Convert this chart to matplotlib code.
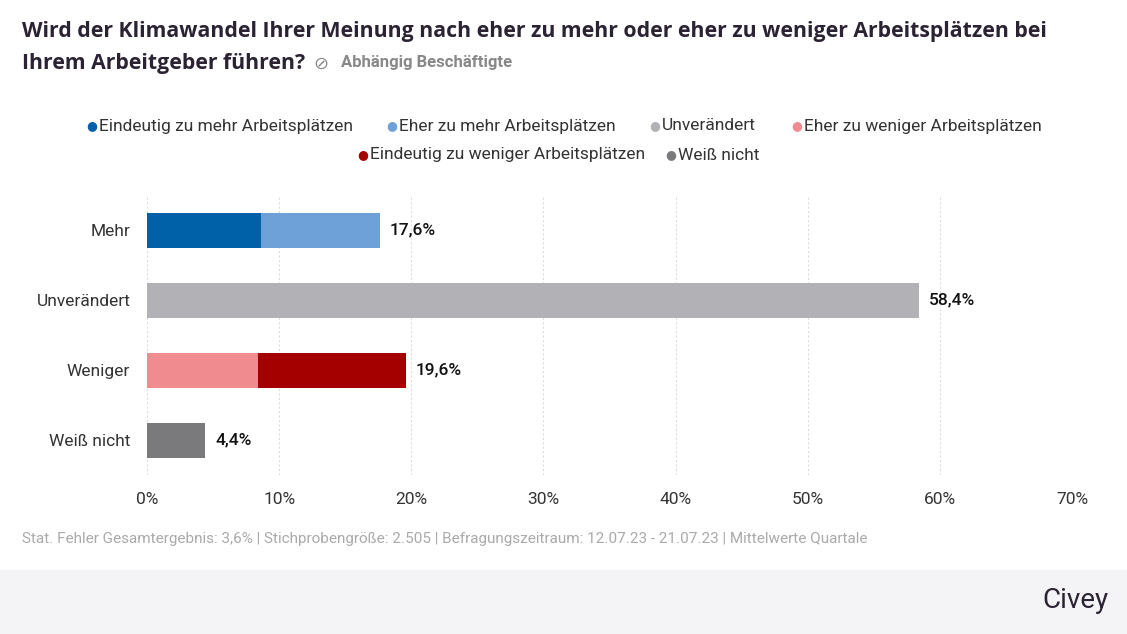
import matplotlib
matplotlib.use("Agg")
import matplotlib.pyplot as plt
from matplotlib.patches import Rectangle

categories = ["Mehr", "Unverändert", "Weniger", "Weiß nicht"]
seg1 = [8.6, 58.4, 8.4, 4.4]
seg2 = [9.0, 0.0, 11.2, 0.0]
totals = ["17,6%", "58,4%", "19,6%", "4,4%"]
c1 = ["#0060a8", "#b1b1b6", "#f08b90", "#7a7a7c"]
c2 = ["#6ea1d8", "#b1b1b6", "#a50000", "#7a7a7c"]
legend_items = [("Eindeutig zu mehr Arbeitsplätzen", "#0060a8"),
                ("Eher zu mehr Arbeitsplätzen", "#6ea1d8"),
                ("Unverändert", "#b1b1b6"),
                ("Eher zu weniger Arbeitsplätzen", "#f08b90"),
                ("Eindeutig zu weniger Arbeitsplätzen", "#a50000"),
                ("Weiß nicht", "#7a7a7c")]
xticks = [0, 10, 20, 30, 40, 50, 60, 70]

plt.rcParams['font.family'] = ['Roboto', 'DejaVu Sans']
W, H = 1127, 634
fig = plt.figure(figsize=(W/100, H/100), dpi=100)
fig.patches.append(Rectangle((0, 0), 1, 64/H, transform=fig.transFigure, color="#f4f4f6", zorder=-1))

ax = fig.add_axes([147/W, 1-475/H, (1072-147)/W, 280/H])
y = list(range(len(categories)))
ax.barh(y, seg1, height=0.5, color=c1)
ax.barh(y, seg2, left=seg1, height=0.5, color=c2)
for i, t in enumerate(totals):
    ax.text(seg1[i] + seg2[i] + 0.75, i, t, va="center", ha="left", fontsize=12.5,
            fontweight="medium", color="#111111")
ax.set_ylim(3.5, -0.5)
ax.set_xlim(0, 70)
ax.set_yticks(y)
ax.set_yticklabels(categories, fontsize=12.5, color="#333333")
ax.set_xticks(xticks)
ax.set_xticklabels([f"{v}%" for v in xticks], fontsize=12.5, color="#333333")
ax.tick_params(length=0, pad=12)
ax.grid(axis="x", color="#dddddd", linestyle=(0, (2, 2)), linewidth=0.8)
ax.set_axisbelow(True)
for s in ax.spines.values():
    s.set_visible(False)

tf = ['Open Sans', 'DejaVu Sans']
fig.text(22/W, 1-31/H, "Wird der Klimawandel Ihrer Meinung nach eher zu mehr oder eher zu weniger Arbeitsplätzen bei",
         fontsize=15.3, fontweight="bold", color="#2b2233", va="center", family=tf)
fig.text(22/W, 1-64/H, "Ihrem Arbeitgeber führen?", fontsize=15.3, fontweight="bold", color="#2b2233", va="center", family=tf)
fig.text(341/W, 1-63/H, "Abhängig Beschäftigte", fontsize=12, fontweight="bold", color="#888888", va="center")
fig.text(313/W, 1-64/H, "⊘", fontsize=13, color="#888888", va="center", family=['DejaVu Sans'])

rows = [(0, [(86, 0), (386, 1), (649, 2), (791, 3)]), (1, [(357, 4), (665, 5)])]
for r, items in rows:
    yy = 1 - (126 + 29*r)/H
    for x, k in items:
        lab, col = legend_items[k]
        fig.text(x/W, yy, "●", fontsize=9, color=col, va="center", ha="left")
        fig.text((x+13)/W, yy, lab, fontsize=12.5, color="#333333", va="center")

fig.text(22/W, 1-539/H, "Stat. Fehler Gesamtergebnis: 3,6% | Stichprobengröße: 2.505 | Befragungszeitraum: 12.07.23 - 21.07.23 | Mittelwerte Quartale",
         fontsize=11, color="#aaaaaa", va="center")
fig.text(1108/W, 1-600/H, "Civey", fontsize=20, color="#2b2233", va="center", ha="right")
fig.savefig("out.png", dpi=100)
